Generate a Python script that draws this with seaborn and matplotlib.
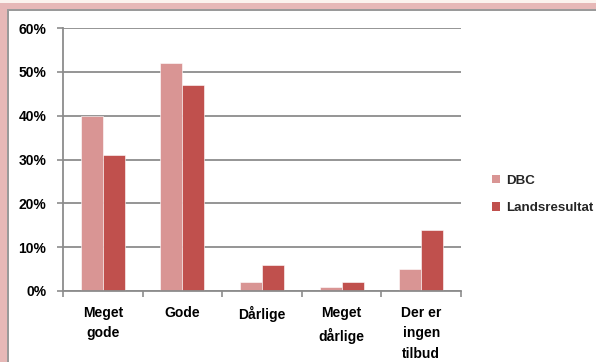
import matplotlib
matplotlib.use("Agg")
import matplotlib.pyplot as plt
import matplotlib.patches as mpatches
from matplotlib.ticker import FuncFormatter
import seaborn as sns
import pandas as pd

categories = ["Meget\ngode", "Gode", "Dårlige", "Meget\ndårlige", "Der er\ningen\ntilbud"]
series_names = ["DBC", "Landsresultat"]
dbc_values = [40, 52, 2, 1, 5]
lands_values = [31, 47, 6, 2, 14]
y_ticks = [0, 10, 20, 30, 40, 50, 60]

df = pd.DataFrame({
    "kategori": categories * 2,
    "serie": [series_names[0]] * len(categories) + [series_names[1]] * len(categories),
    "andel": dbc_values + lands_values,
})

sns.set_theme(style="white")
plt.rcParams["font.family"] = ["Liberation Sans", "DejaVu Sans"]
plt.rcParams["font.weight"] = "bold"

W, H = 596, 362
fig = plt.figure(figsize=(W / 100, H / 100), dpi=100)
fig.patch.set_facecolor("#FBF3EE")

# frame: pink band, gray edge, white chart area
fig.patches.append(mpatches.Rectangle((0, 0), 1, 1 - 3 / H, transform=fig.transFigure,
                                      facecolor="#E6B8B7", edgecolor="none", zorder=-3))
fig.patches.append(mpatches.Rectangle((7 / W, 0), 1, 1 - 9 / H, transform=fig.transFigure,
                                      facecolor="#9A9A9A", edgecolor="none", zorder=-2))
fig.patches.append(mpatches.Rectangle((8.5 / W, 0), 1, 1 - 10.5 / H, transform=fig.transFigure,
                                      facecolor="white", edgecolor="none", zorder=-1))

ax = fig.add_axes([63 / W, (H - 291) / H, (461 - 63) / W, (291 - 28) / H])
ax.set_facecolor("none")

palette = {"DBC": "#D99594", "Landsresultat": "#C0504D"}
sns.barplot(data=df, x="kategori", y="andel", hue="serie", palette=palette,
            width=0.555, saturation=1, ax=ax, legend=False,
            edgecolor="white", linewidth=0.4)

ax.set_ylim(0, 60)
ax.set_xlim(-0.5, len(categories) - 0.5)
ax.set_yticks(y_ticks)
ax.yaxis.set_major_formatter(FuncFormatter(lambda v, p: f"{int(v)}%"))
ax.yaxis.grid(True, color="#8C8C8C", linewidth=1.3)
ax.set_axisbelow(True)
ax.set_xlabel("")
ax.set_ylabel("")

for s in ["top", "right"]:
    ax.spines[s].set_visible(False)
for s in ["left", "bottom"]:
    ax.spines[s].set_color("#8C8C8C")
    ax.spines[s].set_linewidth(1.3)

ax.tick_params(axis="y", left=True, length=4, width=1.2, color="#8C8C8C", pad=8,
               labelsize=10, labelcolor="black")
ax.set_xticks([i - 0.5 for i in range(len(categories) + 1)], minor=True)
ax.tick_params(axis="x", which="minor", bottom=True, length=4, width=1.2, color="#8C8C8C")
ax.tick_params(axis="x", which="major", bottom=False, pad=5, labelsize=10, labelcolor="black")
for lbl in ax.get_xticklabels():
    lbl.set_linespacing(1.56)
    lbl.set_verticalalignment("top")
for lbl in ax.get_yticklabels() + ax.get_xticklabels():
    lbl.set_fontweight("bold")

handles = [mpatches.Rectangle((0, 0), 1, 1, facecolor=palette[n], edgecolor="none") for n in series_names]
fig.legend(handles, series_names, loc="upper left", bbox_to_anchor=(485 / W, 1 - 168 / H),
           frameon=False, handlelength=0.6, handleheight=0.6,
           handletextpad=0.5, labelspacing=1.15, borderpad=0, prop={"weight": "bold", "size": 9.6})

fig.savefig("out.png", dpi=100, facecolor=fig.get_facecolor())
